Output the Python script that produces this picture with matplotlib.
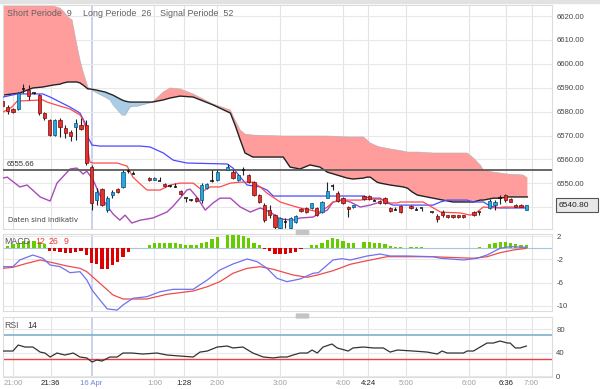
import matplotlib
matplotlib.use("Agg")
import matplotlib.pyplot as plt
from matplotlib.patches import Rectangle, FancyBboxPatch

plt.rcParams['font.family'] = ['Liberation Sans', 'DejaVu Sans']

# 5-Minuten-Kerzen, Index 0 = 21:00
bar_idx = (list(range(-2, 24)) + list(range(26, 40)) + list(range(41, 66)) + list(range(67, 75))
           + list(range(76, 79)) + list(range(80, 87)) + [88, 89] + list(range(91, 99)))

opens = [6584.4, 6581.9, 6581.1, 6581.1, 6589.5, 6589.0, 6587.8, 6586.9, 6579.4, 6576.5,
         6570.2, 6576.5, 6573.1, 6571.5, 6573.6, 6574.4, 6574.4, 6556.8, 6543.0, 6547.6,
         6538.8, 6545.1, 6547.6, 6548.5, 6555.1, 6553.9,
         6552.2, 6551.4, 6551.0, 6549.7, 6548.9, 6548.5, 6546.8, 6543.8, 6543.0, 6543.8,
         6543.0, 6548.0, 6551.0, 6551.4,
         6555.6, 6554.7, 6551.4, 6555.6, 6553.5, 6550.5, 6545.1, 6540.9, 6538.8, 6536.7,
         6531.5, 6533.8, 6531.5, 6533.8, 6539.2, 6539.7, 6539.7, 6539.7, 6538.0, 6543.8,
         6548.9, 6545.9, 6543.8, 6540.1, 6540.1,
         6544.7, 6544.7, 6542.6, 6542.6, 6543.8, 6539.7, 6538.8, 6540.5,
         6540.5, 6538.8, 6539.7,
         6538.0, 6536.3, 6538.0, 6536.7, 6536.7, 6536.7, 6536.7,
         6538.0, 6538.0,
         6539.7, 6540.9, 6543.8, 6545.1, 6543.4, 6540.9, 6540.9, 6538.8]
highs = [6585.3, 6582.8, 6581.5, 6588.2, 6591.5, 6591.1, 6588.2, 6587.4, 6579.8, 6576.9,
         6576.9, 6577.3, 6574.4, 6572.3, 6576.9, 6577.3, 6576.5, 6557.7, 6548.0, 6548.0,
         6544.7, 6547.2, 6548.0, 6555.6, 6556.0, 6555.1,
         6552.6, 6552.6, 6552.6, 6550.1, 6549.3, 6550.1, 6547.2, 6543.8, 6543.4, 6544.3,
         6550.1, 6550.1, 6555.6, 6555.6,
         6558.1, 6555.6, 6553.9, 6556.8, 6553.9, 6551.0, 6545.5, 6541.8, 6540.9, 6537.2,
         6535.9, 6535.5, 6535.9, 6536.7, 6539.7, 6540.1, 6541.8, 6540.1, 6542.6, 6550.5,
         6549.7, 6546.8, 6544.3, 6540.5, 6540.9,
         6545.1, 6545.1, 6543.4, 6543.0, 6544.3, 6540.1, 6540.1, 6540.9,
         6540.9, 6540.1, 6539.7,
         6538.2, 6537.2, 6538.8, 6536.9, 6536.9, 6536.9, 6536.9,
         6538.4, 6538.0,
         6543.4, 6543.0, 6545.1, 6545.5, 6543.8, 6541.3, 6541.3, 6540.9]
lows = [6581.5, 6579.0, 6579.4, 6580.7, 6587.8, 6584.9, 6587.4, 6578.6, 6576.5, 6569.8,
        6569.8, 6569.4, 6569.0, 6567.7, 6568.1, 6572.3, 6557.7, 6538.8, 6540.9, 6540.5,
        6538.0, 6543.8, 6545.9, 6548.0, 6554.3, 6553.9,
        6551.0, 6551.4, 6551.0, 6548.5, 6548.5, 6548.5, 6545.1, 6542.2, 6542.6, 6542.2,
        6541.8, 6547.6, 6550.5, 6551.0,
        6555.6, 6551.8, 6551.0, 6553.5, 6550.1, 6544.7, 6541.8, 6533.8, 6535.5, 6531.0,
        6531.0, 6531.3, 6531.0, 6533.4, 6538.0, 6537.6, 6539.2, 6536.3, 6537.6, 6543.8,
        6547.2, 6542.2, 6541.3, 6535.9, 6539.7,
        6543.0, 6543.0, 6542.6, 6541.3, 6541.3, 6538.0, 6538.8, 6537.6,
        6539.2, 6538.8, 6538.4,
        6537.8, 6533.8, 6535.9, 6535.7, 6535.7, 6535.7, 6535.7,
        6536.5, 6536.7,
        6539.2, 6538.8, 6541.3, 6542.2, 6542.2, 6540.1, 6540.1, 6538.8]
closes = [6582.3, 6580.3, 6579.8, 6587.8, 6589.3, 6586.5, 6587.6, 6579.4, 6577.3, 6570.2,
          6576.5, 6573.6, 6571.0, 6569.8, 6575.2, 6572.7, 6558.5, 6541.8, 6546.4, 6540.9,
          6543.8, 6546.4, 6546.4, 6554.7, 6555.1, 6553.9,
          6551.4, 6552.2, 6551.0, 6548.9, 6548.9, 6548.5, 6545.5, 6543.8, 6543.0, 6542.6,
          6549.3, 6549.7, 6551.0, 6554.7,
          6556.8, 6552.2, 6553.5, 6555.6, 6550.5, 6545.1, 6542.2, 6534.6, 6536.7, 6531.6,
          6535.5, 6533.8, 6535.5, 6536.3, 6538.4, 6538.0, 6541.8, 6536.7, 6542.2, 6546.8,
          6548.9, 6542.6, 6541.8, 6539.2, 6540.9,
          6543.4, 6543.4, 6542.6, 6541.8, 6541.8, 6538.4, 6538.8, 6538.0,
          6539.7, 6538.8, 6539.7,
          6538.0, 6535.1, 6536.7, 6535.9, 6535.9, 6535.9, 6535.9,
          6536.7, 6538.0,
          6542.6, 6542.2, 6543.8, 6543.0, 6542.2, 6540.1, 6540.1, 6540.8]

# MACD-Histogramm, je Kerze
macd_hist = [0.2, 0.35, 0.55, 0.8, 1.1, 1.15, 1.15, 0.95, 0.55,
             -0.55, -0.55, -0.74, -0.95, -0.95, -0.74, -0.55, -1.3, -2.55, -2.85,
             -3.6, -3.6, -3.05, -2.4, -1.55, -0.75, -0.12,
             0.4, 0.74, 0.86, 0.86, 0.86, 0.74, 0.57, 0.4, 0.4, 0.4, 0.8, 0.97, 1.43, 1.89,
             2.29, 2.2, 2.1, 2.0, 1.71, 0.86, 0.4, -0.17, -0.57, -1.14, -1.14, -1.14, -0.97,
             -0.74, -0.29, -0.11, 0.4, 0.4, 0.86, 1.31, 1.71, 1.54, 1.14, 0.86, 0.86,
             0.97, 0.97, 0.86, 0.74, 0.57, 0.29, 0.17, 0.17,
             0.11, 0.11, 0.11,
             -0.12, -0.12, -0.12, -0.12, -0.12, -0.12, -0.12,
             -0.1, 0.11,
             0.57, 0.74, 0.97, 1.03, 0.86, 0.57, 0.46, 0.4]

# Ichimoku-Wolke (Senkou A / Senkou B)
cloud_x = [-1.9, 1.3, 3.8, 5.7, 7.6, 9.0, 9.6, 10.5, 11.3, 12.2, 12.8, 13.4, 14.3, 14.7,
           16.0, 17.6, 18.5, 19.1, 20.1, 20.8, 21.4, 22.3, 22.9, 23.7, 25.2, 26.6,
           28.7, 30.0, 31.9, 34.4, 38.2, 41.5, 42.4, 43.4, 44.3, 45.8,
           51.6, 52.9, 54.8, 56.7, 58.6, 60.0, 63.8, 64.9, 66.9, 67.6,
           68.2, 69.5, 70.1, 72.0, 74.5, 75.3, 76.2, 77.2, 80.2, 84.0,
           86.7, 87.9, 89.2, 89.8, 91.7, 93.0, 94.4, 97.4, 98.2]
span_a = [6624.2, 6624.2, 6624.2, 6624.2, 6624.2, 6623.3, 6622.1, 6619.6, 6618.3, 6607.9,
          6601.6, 6596.6, 6590.3, 6589.5,
          6587.8, 6586.1, 6584.9, 6582.8, 6580.3, 6578.6, 6578.6, 6581.9, 6582.3, 6582.3,
          6583.2, 6584.0,
          6588.2, 6589.9, 6589.5, 6587.4, 6583.2, 6580.7, 6576.5, 6572.3, 6570.6, 6570.2,
          6569.8, 6569.8, 6569.8, 6569.8, 6569.8, 6569.8, 6569.4, 6569.4, 6569.4, 6568.1,
          6566.9, 6565.6, 6565.2, 6564.4, 6563.5, 6563.1, 6563.1, 6563.1, 6562.7, 6562.7,
          6562.7, 6560.6, 6557.7, 6555.6, 6554.7, 6554.3, 6553.9, 6553.5, 6552.2]
span_b = [6586.9, 6587.8, 6589.9, 6590.3, 6591.1, 6591.5, 6592.0, 6592.4, 6592.4, 6592.4,
          6592.0, 6591.1, 6589.5, 6589.5,
          6589.0, 6588.2, 6587.4, 6586.9, 6585.7, 6584.9, 6584.4, 6584.0, 6584.0, 6584.0,
          6584.0, 6584.0,
          6584.9, 6585.7, 6586.5, 6586.1, 6582.8, 6579.4, 6574.4, 6568.1, 6562.7, 6561.0,
          6561.0, 6556.8, 6556.0, 6557.7, 6556.8, 6554.7, 6552.2, 6551.8, 6552.2, 6552.6,
          6552.6, 6550.5, 6550.1, 6549.3, 6548.5, 6548.0, 6546.4, 6545.1, 6543.8, 6542.2,
          6542.2, 6542.2, 6543.0, 6543.0, 6543.8, 6543.8, 6544.3, 6544.3, 6544.3]

# Kijun (blau)
kijun_x = [-1.9, 0.8, 5.7, 7.1, 9.0, 10.9, 12.8, 13.8, 14.3, 15.1, 16.6, 24.3, 26.2, 28.7,
           30.6, 33.2, 40.9, 42.0, 43.4, 44.7, 47.2, 48.5, 49.7, 54.8, 66.9, 68.2, 70.1,
           71.4, 72.6, 80.2, 81.6, 82.9, 86.7, 87.9, 89.8, 91.1, 93.0, 98.2]
kijun_y = [6586.1, 6587.4, 6587.4, 6586.1, 6584.0, 6581.9, 6579.4, 6575.2, 6569.4, 6566.0,
           6565.6, 6565.6, 6565.2, 6562.7, 6559.7, 6558.5, 6558.1, 6556.4, 6552.6, 6549.3,
           6548.5, 6547.2, 6544.7, 6544.7, 6544.7, 6543.8, 6543.8, 6541.8, 6540.9, 6540.9,
           6542.2, 6543.0, 6543.0, 6542.2, 6542.2, 6540.5, 6539.7, 6539.7]

# Tenkan (rot)
tenkan_x = [-1.9, -0.2, 0.8, 5.7, 6.5, 9.0, 10.9, 12.8, 13.4, 13.9, 14.3, 14.7, 15.3, 19.9,
            21.8, 22.9, 24.3, 25.6, 28.1, 30.0, 31.9, 34.4, 36.3, 37.6, 39.5, 41.5, 43.4,
            45.8, 47.2, 48.5, 51.0, 52.9, 54.8, 58.6, 60.0, 61.1, 62.5, 66.3, 68.2, 70.1,
            72.0, 73.4, 73.9, 78.3, 81.6, 85.4, 87.3, 88.6, 89.8, 92.5, 93.6, 98.2]
tenkan_y = [6579.8, 6581.9, 6584.4, 6584.9, 6584.0, 6582.3, 6581.1, 6578.6, 6576.5, 6573.1,
            6563.9, 6558.9, 6558.5, 6558.5, 6557.2, 6552.6, 6549.7, 6547.2, 6547.2, 6549.3,
            6550.1, 6550.1, 6546.8, 6548.5, 6548.5, 6550.1, 6550.5, 6550.5, 6548.5, 6545.9,
            6542.2, 6540.9, 6539.7, 6538.0, 6540.1, 6542.2, 6543.0, 6543.0, 6543.4, 6543.4,
            6541.8, 6541.8, 6542.2, 6542.2, 6538.0, 6537.6, 6536.7, 6538.0, 6540.1, 6539.7,
            6540.1, 6540.1]

# Chikou (lila)
chikou_x = [-1.9, -1.1, 1.3, 2.7, 5.2, 7.1, 8.4, 10.9, 12.2, 13.4, 14.1, 15.3, 16.6, 18.0,
            19.1, 20.4, 21.4, 22.7, 24.3, 26.7, 29.4, 30.6, 31.9, 33.2, 33.8, 35.1, 36.7,
            38.2, 39.5, 41.5, 43.4, 45.3, 47.2, 49.1, 51.0, 53.5, 54.8, 57.3, 58.6, 60.0,
            61.1, 63.0, 64.4, 66.3, 68.2, 69.5]
chikou_y = [6552.2, 6552.6, 6548.5, 6549.3, 6544.3, 6542.6, 6550.1, 6556.0, 6556.4, 6553.9,
            6555.1, 6551.4, 6545.1, 6540.5, 6537.2, 6534.6, 6536.7, 6533.4, 6534.6, 6535.5,
            6538.0, 6540.5, 6543.8, 6547.2, 6547.6, 6544.3, 6538.8, 6541.8, 6543.8, 6543.8,
            6540.1, 6538.0, 6539.7, 6538.0, 6535.1, 6534.6, 6535.5, 6535.9, 6537.6, 6538.8,
            6542.2, 6543.0, 6542.2, 6540.1, 6540.9, 6541.8]

# MACD-Linie und Signal
macd_x = [-1.9, 0, 1.3, 3.8, 5.7, 7.1, 9.0, 10.9, 12.8, 14.1, 15.1, 16.6, 18.0, 19.9, 21.0,
          22.9, 25.6, 28.1, 30.6, 34.4, 37.1, 39.5, 42.0, 44.7, 46.6, 48.5, 50.4, 52.3, 54.8,
          57.3, 58.3, 61.1, 62.8, 64.4, 67.6, 70.1, 72.0, 75.3, 80.2, 81.6, 86.0, 88.6, 90.5,
          93.0, 94.9, 98.0]
macd_y = [-3.26, -3.26, -2.11, -1.26, -1.82, -2.97, -3.26, -4.29, -4.12, -5.54, -7.26, -8.97,
          -10.5, -10.7, -9.83, -8.68, -8.4, -7.55, -7.14, -7.14, -5.54, -3.83, -2.8, -1.94,
          -2.4, -3.54, -5.25, -5.83, -5.37, -4.39, -4.29, -2.11, -1.89, -2.11, -1.43, -1.09,
          -1.43, -1.43, -1.55, -1.82, -2.11, -1.82, -1.26, -0.11, 0.17, 0.06]
signal_x = [-1.9, 0, 2.7, 5.2, 7.6, 10.3, 12.8, 14.1, 16.6, 19.1, 21.0, 25.6, 29.4, 34.4, 37.1,
            39.5, 42.0, 44.7, 47.2, 49.7, 53.5, 56.2, 58.1, 61.1, 64.4, 67.6, 71.4, 80.2, 82.9,
            87.9, 90.5, 93.0, 95.5, 98.0]
signal_y = [-3.54, -3.36, -2.68, -2.11, -2.58, -3.14, -3.54, -4.12, -6.11, -8.11, -8.8, -8.8,
            -7.99, -7.43, -6.69, -5.83, -4.39, -3.54, -3.26, -3.71, -4.69, -5.08, -4.69, -3.95,
            -2.85, -2.23, -1.55, -1.55, -1.65, -1.82, -1.55, -0.86, -0.4, -0.11]

# RSI 14
rsi_x = [-1.9, 0, 1.0, 2.3, 3.8, 5.2, 6.1, 7.1, 8.4, 9.9, 11.5, 12.8, 14.1, 15.1, 16.0, 17.0,
         18.5, 19.9, 21.0, 22.7, 24.8, 27.5, 29.4, 31.9, 34.4, 35.7, 37.1, 39.0, 40.9, 42.0,
         43.9, 45.8, 47.8, 49.7, 51.0, 52.3, 53.5, 54.8, 56.2, 57.1, 58.1, 59.2, 60.9, 61.9,
         64.0, 64.9, 66.9, 68.8, 70.7, 72.0, 73.4, 76.4, 79.1, 81.0, 81.9, 82.9, 86.0, 86.7,
         87.9, 90.5, 91.7, 93.0, 94.4, 94.9, 95.9, 96.8, 98.0]
rsi_y = [42.8, 42.8, 53, 49.6, 49.6, 41, 39.4, 32.6, 39.4, 36, 39.4, 32.6, 31, 24.1, 27.5, 25.8,
         32.6, 32.6, 39.4, 39.4, 37.7, 39.4, 36, 34.3, 32.6, 41, 42.8, 49.6, 51.3, 48,
         49.6, 39.4, 32.6, 31, 32.6, 32.6, 36, 39.4, 39.4, 44.5, 39.4, 49.6, 54.7, 48,
         42.8, 48, 49.6, 48, 48, 41, 44.5, 42.8, 41, 37.7, 42.8, 39.4, 39.4, 42.8,
         42.8, 56.4, 56.4, 59.8, 56.4, 56.4, 48, 48, 51.3]

tick_pos = [0, 7.2, 15, 27, 32.6, 39, 51, 63, 67.8, 75, 87, 94.2, 99]
tick_lbl = ['21:00', '21:36', '16 Apr', '1:00', '1:28', '2:00', '3:00', '4:00', '4:24',
            '5:00', '6:00', '6:36', '7:00']
tick_col = ['#a0a0a0', '#222222', '#6f86d6', '#a0a0a0', '#222222', '#a0a0a0', '#a0a0a0',
            '#a0a0a0', '#222222', '#a0a0a0', '#a0a0a0', '#222222', '#a0a0a0']

last_price = 6540.80
hline_price = 6555.66

fig = plt.figure(figsize=(6, 3.89), dpi=100)
ax = fig.add_axes([0.005, 0.4113, 0.915, 0.5758])
ax2 = fig.add_axes([0.005, 0.2005, 0.915, 0.1979])
ax3 = fig.add_axes([0.005, 0.0308, 0.915, 0.1542])

fig.patches.append(Rectangle((0, 1 - 3 / 389), 1, 3 / 389, transform=fig.transFigure,
                             color='#e2e2e2', zorder=0))
# Griffe zwischen den Panels
for gy in [232.5 / 389, 316 / 389]:
    fig.patches.append(FancyBboxPatch((297 / 600, 1 - gy - 0.004), 11 / 600, 0.008,
                                      boxstyle='round,pad=0.001', transform=fig.transFigure,
                                      color='#c4c4c4', zorder=5))

for a in (ax, ax2, ax3):
    a.set_xlim(-1.9, 102.9)
    for s in a.spines.values():
        s.set_color('#dcdcdc')
        s.set_linewidth(0.8)
    for p, lbl in zip(tick_pos, tick_lbl):
        if lbl == '16 Apr':
            a.axvline(p, color='#c7cdec', lw=1.3, zorder=0)
        else:
            a.axvline(p, color='#e3e3e3', lw=0.8, zorder=0)
    a.yaxis.tick_right()
    a.tick_params(axis='y', length=0, pad=3, labelsize=5.6, labelcolor='#444444')
    a.grid(axis='y', color='#e8e8e8', lw=0.8, zorder=0)
    a.set_axisbelow(True)

# Hauptchart
ax.set_ylim(6530.9, 6624.6)
ax.set_yticks([6540, 6550, 6560, 6570, 6580, 6590, 6600, 6610, 6620])
ax.set_yticklabels([''] + ['%.2f' % v for v in [6550, 6560, 6570, 6580, 6590, 6600, 6610, 6620]])
ax.set_xticks([])

ax.fill_between(cloud_x, span_a, span_b, where=[a >= b for a, b in zip(span_a, span_b)],
                interpolate=True, color='#ff9d9d', lw=0, zorder=1)
ax.fill_between(cloud_x, span_a, span_b, where=[a <= b for a, b in zip(span_a, span_b)],
                interpolate=True, color='#a9cde6', lw=0, zorder=1)
ax.plot(cloud_x, span_a, color='#b0b0b0', lw=0.4, zorder=2)
ax.plot(cloud_x, span_b, color='#222222', lw=1.0, zorder=2)

ax.plot(chikou_x, chikou_y, color='#a84bb8', lw=1.0, zorder=3)
ax.plot(kijun_x, kijun_y, color='#4a4aff', lw=0.9, zorder=3)
ax.plot(tenkan_x, tenkan_y, color='#ff4a4a', lw=0.9, zorder=3)

ax.axhline(hline_price, color='#5a5a5a', lw=1.3, zorder=3)
ax.text(-1.2, hline_price + 0.9, '%.2f' % hline_price, fontsize=5.6, color='#333333',
        va='bottom', ha='left', zorder=6)

for i, o, h, l, c in zip(bar_idx, opens, highs, lows, closes):
    ax.vlines(i, l, h, color='#222222', lw=0.8, zorder=4)
    if abs(c - o) < 0.3:
        ax.hlines(c, i - 0.32, i + 0.32, color='#111111', lw=1.1, zorder=5)
    else:
        up = c > o
        ax.bar(i, abs(c - o), bottom=min(o, c), width=0.62,
               color='#27a6e0' if up else '#e5302d',
               edgecolor='#0b4f7a' if up else '#6e0d0d', lw=0.5, zorder=5)

ax.text(0.0073, 0.964, 'Short Periode  9', transform=ax.transAxes, fontsize=6.4,
        color='#606060', va='center')
ax.text(0.1457, 0.964, 'Long Periode  26', transform=ax.transAxes, fontsize=6.4,
        color='#606060', va='center')
ax.text(0.286, 0.964, 'Signal Periode  52', transform=ax.transAxes, fontsize=6.4,
        color='#606060', va='center')
ax.text(-1.0, 6534.6, 'Daten sind indikativ', fontsize=5.0, color='#444444', va='center',
        family=['DejaVu Sans'])

tr = ax.get_yaxis_transform()
ax.add_patch(Rectangle((1.0073, last_price - 2.9), 0.0766, 5.8, transform=tr,
                       facecolor='#e8e8e8', edgecolor='#555555', lw=0.8, clip_on=False, zorder=7))
ax.text(1.012, last_price, '%.2f' % last_price, transform=tr, fontsize=6.0, color='#222222',
        va='center', ha='left', clip_on=False, zorder=8)

# MACD
ax2.set_ylim(-10.86, 2.34)
ax2.set_yticks([2, -2, -6, -10])
ax2.set_yticklabels(['2', '-2', '-6', '-10'])
ax2.set_xticks([])
ax2.axhline(0, color='#a6c6dc', lw=0.8, zorder=1)
ax2.bar(bar_idx, macd_hist, width=0.62, lw=0,
        color=['#66cc00' if v >= 0 else '#dd0000' for v in macd_hist], zorder=2)
ax2.plot(signal_x, signal_y, color='#ee4b4b', lw=0.9, zorder=3)
ax2.plot(macd_x, macd_y, color='#7070ee', lw=0.9, zorder=3)
ax2.text(0.002, 0.909, 'MACD', transform=ax2.transAxes, fontsize=6.3, color='#555555',
         va='center', zorder=5)
for xf, s in zip([0.0583, 0.0838, 0.111], ['12', '26', '9']):
    ax2.text(xf, 0.909, s, transform=ax2.transAxes, fontsize=6.3, color='#e83a3a',
             va='center', zorder=5)

# RSI
ax3.set_ylim(-1.4, 100.6)
ax3.set_yticks([0, 40, 80])
ax3.set_yticklabels(['0', '40', '80'])
ax3.axhline(70, color='#7fb0cb', lw=1.2, zorder=1)
ax3.axhline(30, color='#ee4040', lw=1.0, zorder=1)
ax3.plot(rsi_x, rsi_y, color='#333333', lw=0.9, zorder=3)
ax3.text(0.002, 0.867, 'RSI', transform=ax3.transAxes, fontsize=6.3, color='#555555',
         va='center')
ax3.text(0.044, 0.867, '14', transform=ax3.transAxes, fontsize=6.3, color='#333333',
         va='center')
ax3.set_xticks(tick_pos)
ax3.set_xticklabels(tick_lbl)
ax3.tick_params(axis='x', length=0, pad=2.5, labelsize=5.6)
for t, col in zip(ax3.get_xticklabels(), tick_col):
    t.set_color(col)

fig.savefig('out.png', dpi=100)
